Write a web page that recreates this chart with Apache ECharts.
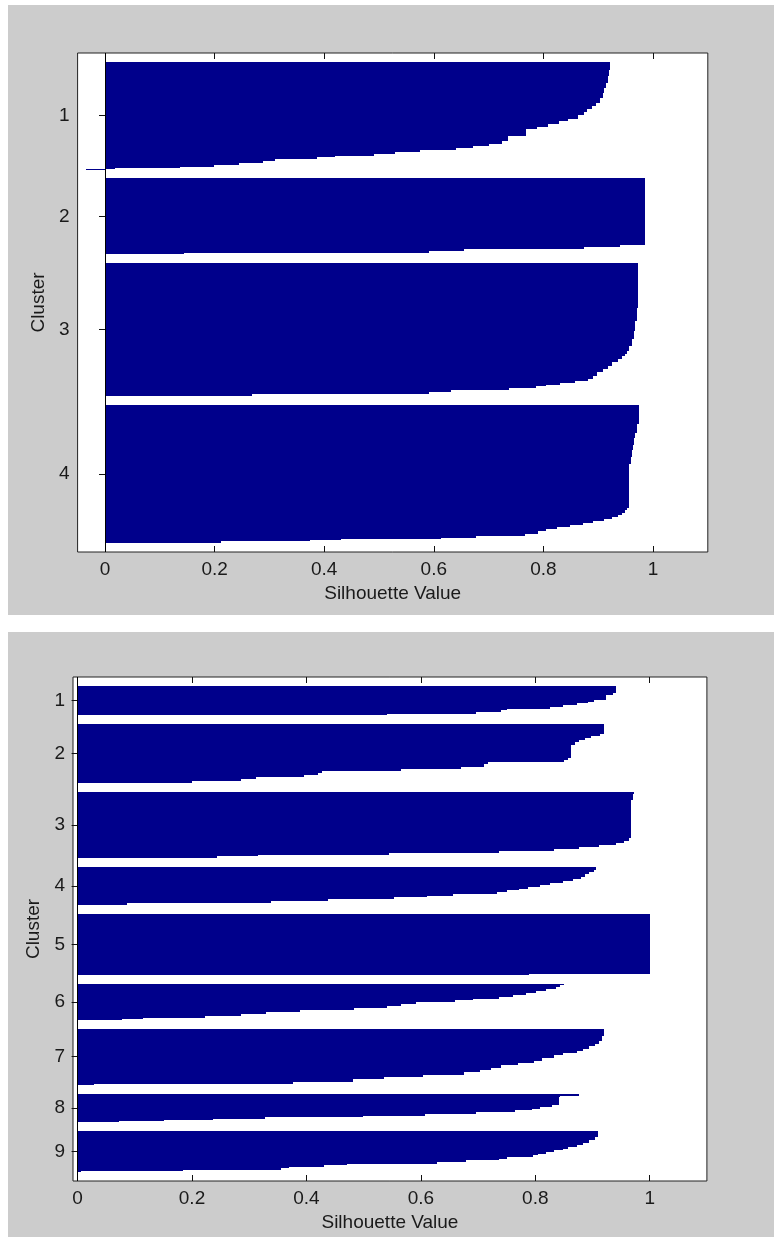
<!DOCTYPE html>
<html><head><meta charset="utf-8">
<script src="https://cdn.jsdelivr.net/npm/echarts@6/dist/echarts.min.js"></script>
<style>
html,body{margin:0;padding:0;background:#fff;}
#wrap{position:relative;width:774px;height:1237px;overflow:hidden;}
.panel{position:absolute;background:#cccccc;}
#chart{position:absolute;left:0;top:0;width:774px;height:1237px;}
</style></head><body>
<div id="wrap">
<div class="panel" style="left:8px;top:5px;width:766px;height:610px"></div>
<div class="panel" style="left:8px;top:632px;width:766px;height:605px"></div>
<div id="chart"></div>
</div>
<script>
// ---- data: silhouette values per cluster, sorted descending, as [value, number of points] ----
const xTickValues = [0, 0.2, 0.4, 0.6, 0.8, 1];
const xAxisName = 'Silhouette Value';
const yAxisName = 'Cluster';

const topClusterLabels = ['1', '2', '3', '4'];
const topGapRows = 9;
const topXRange = [-0.05, 1.1];
const topCluster1 = [[0.921,8],[0.919,6],[0.917,7],[0.914,5],[0.911,5],[0.909,5],[0.904,5],[0.896,3],[0.889,3],[0.880,3],[0.874,3],[0.863,4],[0.844,2],[0.829,3],[0.808,3],[0.788,2],[0.769,7],[0.735,5],[0.724,3],[0.701,2],[0.671,2],[0.641,2],[0.574,2],[0.529,2],[0.491,2],[0.420,1],[0.386,2],[0.311,2],[0.289,2],[0.244,2],[0.199,2],[0.137,1],[0.019,1],[-0.035,1]];
const topCluster2 = [[0.986,67],[0.940,2],[0.875,2],[0.655,2],[0.591,2],[0.145,1]];
const topCluster3 = [[0.972,45],[0.970,13],[0.968,10],[0.965,8],[0.961,7],[0.956,5],[0.953,3],[0.949,2],[0.944,3],[0.936,3],[0.925,4],[0.917,3],[0.908,3],[0.897,4],[0.891,3],[0.881,2],[0.857,2],[0.831,2],[0.805,1],[0.786,2],[0.737,2],[0.632,2],[0.591,2],[0.269,2]];
const topCluster4 = [[0.974,19],[0.971,10],[0.968,5],[0.966,7],[0.964,5],[0.962,7],[0.960,7],[0.956,44],[0.953,2],[0.949,3],[0.944,2],[0.936,2],[0.925,2],[0.910,2],[0.891,2],[0.872,2],[0.848,2],[0.824,2],[0.805,2],[0.790,3],[0.767,2],[0.677,2],[0.614,1],[0.430,1],[0.374,1],[0.212,2]];

const bottomClusterLabels = ['1', '2', '3', '4', '5', '6', '7', '8', '9'];
const bottomGapRows = 9;
const bottomXRange = [-0.008, 1.1];
const bottomCluster1 = [[0.941,7],[0.935,2],[0.923,5],[0.902,2],[0.892,1],[0.873,2],[0.848,2],[0.825,2],[0.751,1],[0.740,2],[0.697,2],[0.541,1]];
const bottomCluster2 = [[0.921,10],[0.914,2],[0.898,2],[0.887,2],[0.876,2],[0.870,3],[0.862,13],[0.858,2],[0.851,3],[0.717,2],[0.711,3],[0.670,2],[0.565,2],[0.427,2],[0.420,2],[0.395,2],[0.312,2],[0.286,2],[0.200,2]];
const bottomCluster3 = [[0.973,2],[0.970,6],[0.968,38],[0.963,3],[0.955,2],[0.941,2],[0.912,2],[0.876,2],[0.832,2],[0.736,2],[0.545,2],[0.316,1],[0.244,2]];
const bottomCluster4 = [[0.907,3],[0.902,2],[0.894,2],[0.887,3],[0.880,2],[0.866,2],[0.848,2],[0.826,2],[0.808,2],[0.787,2],[0.772,1],[0.751,2],[0.733,2],[0.657,2],[0.611,1],[0.553,2],[0.438,2],[0.338,2],[0.086,2]];
const bottomCluster5 = [[1.000,61],[0.789,1]];
const bottomCluster6 = [[0.850,1],[0.844,2],[0.837,2],[0.819,2],[0.801,2],[0.783,2],[0.761,2],[0.736,2],[0.692,1],[0.659,2],[0.591,2],[0.566,2],[0.541,2],[0.483,2],[0.388,2],[0.329,2],[0.286,2],[0.223,2],[0.114,1],[0.078,1]];
const bottomCluster7 = [[0.920,7],[0.916,5],[0.912,3],[0.904,2],[0.894,3],[0.884,2],[0.873,2],[0.848,2],[0.833,3],[0.812,3],[0.797,2],[0.769,2],[0.740,3],[0.722,2],[0.704,2],[0.675,3],[0.603,2],[0.535,2],[0.481,3],[0.377,2],[0.029,1]];
const bottomCluster8 = [[0.876,2],[0.844,2],[0.841,8],[0.830,2],[0.808,2],[0.794,1],[0.765,2],[0.697,2],[0.607,2],[0.499,1],[0.327,2],[0.237,1],[0.151,1],[0.073,1]];
const bottomCluster9 = [[0.909,6],[0.905,3],[0.894,3],[0.884,2],[0.873,2],[0.858,2],[0.848,1],[0.833,2],[0.819,2],[0.805,1],[0.796,2],[0.751,2],[0.736,1],[0.679,2],[0.629,2],[0.471,1],[0.431,2],[0.370,1],[0.356,2],[0.185,1],[0.006,1]];

const topClusters = [topCluster1, topCluster2, topCluster3, topCluster4];
const bottomClusters = [bottomCluster1, bottomCluster2, bottomCluster3, bottomCluster4, bottomCluster5, bottomCluster6, bottomCluster7, bottomCluster8, bottomCluster9];

// ---- styles ----
const barColor = '#00008b';
const inkColor = '#1a1a1a';
const fontFamily = "'Liberation Sans', Arial, Helvetica, sans-serif";
const fontSize = 19;

// rows: [value, firstRow, lastRow]; gap rows between clusters as in MATLAB silhouette
function layoutPanel(clusters, gap) {
  let row = gap;
  const items = [], centers = [];
  clusters.forEach(runs => {
    const first = row + 1;
    runs.forEach(([v, n]) => { items.push([v, row + 1, row + n]); row += n; });
    centers.push((first + row) / 2);
    row += gap;
  });
  return { items, centers, total: row };
}
const topLayout = layoutPanel(topClusters, topGapRows);
const bottomLayout = layoutPanel(bottomClusters, bottomGapRows);

function renderRun(params, api) {
  const v = api.value(0), r0 = api.value(1), r1 = api.value(2);
  const p0 = api.coord([0, r0 - 0.5]);
  const p1 = api.coord([v, r1 + 0.5]);
  const x0 = Math.round(Math.min(p0[0], p1[0])), x1 = Math.round(Math.max(p0[0], p1[0]));
  const y0 = Math.round(Math.min(p0[1], p1[1])), y1 = Math.round(Math.max(p0[1], p1[1]));
  return { type: 'rect', shape: { x: x0, y: y0, width: Math.max(1, x1 - x0), height: Math.max(1, y1 - y0) }, style: { fill: barColor } };
}

const textStyle = { color: inkColor, fontFamily, fontSize };

function xAxes(gridIndex, range) {
  const common = {
    type: 'value', gridIndex, min: range[0], max: range[1],
    axisLine: { show: false }, splitLine: { show: false },
    axisTick: { show: true, inside: true, length: 6, customValues: xTickValues, lineStyle: { color: '#111', width: 1 } }
  };
  return [
    Object.assign({}, common, {
      position: 'bottom',
      axisLabel: Object.assign({ show: true, margin: 8, customValues: xTickValues, formatter: v => String(Math.round(v * 10) / 10) }, textStyle),
      name: xAxisName, nameLocation: 'middle', nameGap: 32, nameTextStyle: textStyle
    }),
    Object.assign({}, common, { position: 'top', axisLabel: { show: false } })
  ];
}

function yAxes(gridIndex, layout, labels) {
  const labelFor = v => {
    let best = 0;
    layout.centers.forEach((c, i) => { if (Math.abs(c - v) < Math.abs(layout.centers[best] - v)) best = i; });
    return labels[best];
  };
  const common = {
    type: 'value', gridIndex, inverse: true, min: 0.5, max: layout.total + 0.5,
    axisLine: { show: false }, splitLine: { show: false },
    axisTick: { show: true, inside: true, length: 6, customValues: layout.centers, lineStyle: { color: '#111', width: 1 } }
  };
  return [
    Object.assign({}, common, {
      position: 'left',
      axisLabel: Object.assign({ show: true, margin: 8, customValues: layout.centers, formatter: labelFor }, textStyle),
      name: yAxisName, nameLocation: 'middle', nameGap: 28, nameTextStyle: textStyle
    }),
    Object.assign({}, common, { position: 'right', axisLabel: { show: false } })
  ];
}

function runSeries(axisIndex, layout) {
  return {
    type: 'custom', xAxisIndex: axisIndex, yAxisIndex: axisIndex,
    data: layout.items, encode: { x: 0, y: [1, 2] }, clip: true, silent: true,
    renderItem: renderRun,
    markLine: {
      silent: true, symbol: ['none', 'none'], label: { show: false },
      lineStyle: { color: '#000', width: 1, type: 'solid' },
      data: [{ xAxis: 0 }], animation: false
    }
  };
}

const gridCommon = { show: true, backgroundColor: '#ffffff', borderColor: '#222', borderWidth: 1, containLabel: false };
const option = {
  animation: false,
  grid: [
    Object.assign({ left: 77.6, right: 66.2, top: 53, height: 499 }, gridCommon),
    Object.assign({ left: 73, right: 67.1, top: 677, height: 504 }, gridCommon)
  ],
  xAxis: [].concat(xAxes(0, topXRange), xAxes(1, bottomXRange)),
  yAxis: [].concat(yAxes(0, topLayout, topClusterLabels), yAxes(1, bottomLayout, bottomClusterLabels)),
  series: [runSeries(0, topLayout), runSeries(2, bottomLayout)]
};
const chart = echarts.init(document.getElementById('chart'), null, { renderer: 'canvas' });
chart.setOption(option);
</script>
</body></html>
